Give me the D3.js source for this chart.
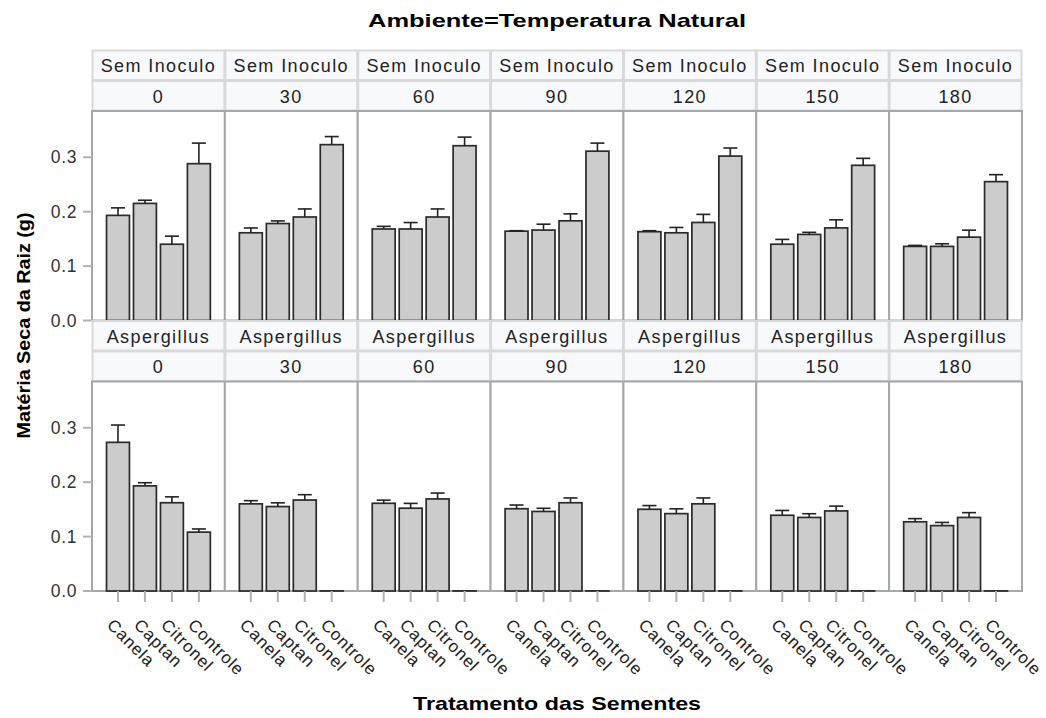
<!DOCTYPE html>
<html>
<head>
<meta charset="utf-8">
<script src="https://cdn.jsdelivr.net/npm/d3@7"></script>
<style>
    body { margin: 0; background: #fff; }
    text { font-family: "Liberation Sans", Arial, sans-serif; }
</style>
</head>
<body>
<div id="chart"></div>
<script>
var treatments = ["Canela", "Captan", "Citronel", "Controle"];
var days = ["0", "30", "60", "90", "120", "150", "180"];
var inoculos = ["Sem Inoculo", "Aspergillus"];
var yTicks = [0, 0.1, 0.2, 0.3];

// media por dia, na ordem dos tratamentos
var semInoculoMean = [
    [0.193, 0.215, 0.140, 0.288],
    [0.161, 0.178, 0.190, 0.323],
    [0.168, 0.168, 0.190, 0.321],
    [0.164, 0.166, 0.183, 0.311],
    [0.163, 0.161, 0.180, 0.302],
    [0.140, 0.158, 0.170, 0.285],
    [0.136, 0.136, 0.153, 0.255]
];
var semInoculoErr = [
    [0.014, 0.006, 0.015, 0.038],
    [0.009, 0.005, 0.015, 0.015],
    [0.005, 0.012, 0.015, 0.016],
    [0.001, 0.011, 0.013, 0.015],
    [0.002, 0.010, 0.015, 0.015],
    [0.009, 0.004, 0.015, 0.013],
    [0.002, 0.005, 0.013, 0.013]
];
var aspergillusMean = [
    [0.273, 0.193, 0.162, 0.108],
    [0.160, 0.155, 0.167, 0],
    [0.161, 0.152, 0.169, 0],
    [0.151, 0.146, 0.162, 0],
    [0.150, 0.142, 0.160, 0],
    [0.139, 0.135, 0.147, 0],
    [0.127, 0.120, 0.135, 0]
];
var aspergillusErr = [
    [0.032, 0.006, 0.011, 0.006],
    [0.006, 0.007, 0.010, 0],
    [0.006, 0.009, 0.011, 0],
    [0.007, 0.006, 0.009, 0],
    [0.007, 0.009, 0.011, 0],
    [0.009, 0.007, 0.009, 0],
    [0.006, 0.006, 0.009, 0]
];

var width = 1046, height = 718;
var gridLeft = 92, gridRight = 1022, gridTop = 50;
var headerH = 30.5, plotH = 209.5;
var blockH = headerH * 2 + plotH;

var svg = d3.select("#chart").append("svg")
    .attr("width", width)
    .attr("height", height);

var colScale = d3.scaleBand()
    .domain(days)
    .range([gridLeft, gridRight]);
var colW = colScale.bandwidth();

var rowScale = d3.scaleBand()
    .domain(inoculos)
    .range([gridTop, gridTop + blockH * 2]);

var yScale = d3.scaleLinear()
    .domain([0, 0.385])
    .range([plotH, 0]);

var rows = [
    {name: "Sem Inoculo", mean: semInoculoMean, err: semInoculoErr},
    {name: "Aspergillus", mean: aspergillusMean, err: aspergillusErr}
];

// stretch text horizontally to a given width
function fitText(sel, w) {
    sel.attr("textLength", w).attr("lengthAdjust", "spacingAndGlyphs");
}

rows.forEach(function (row, r) {
    var rowY = rowScale(row.name);

    days.forEach(function (day, c) {
        var px = colScale(day);
        var g = svg.append("g").attr("transform", "translate(" + px + "," + rowY + ")");

        // header cells
        [row.name, day].forEach(function (label, k) {
            g.append("rect")
                .attr("x", 0.5)
                .attr("y", k * headerH + 0.5)
                .attr("width", colW - 1)
                .attr("height", headerH - 1)
                .attr("fill", "#f8f9fd")
                .attr("stroke", "#d9d9d9")
                .attr("stroke-width", 2);
            g.append("text")
                .attr("x", colW / 2)
                .attr("y", k * headerH + 22)
                .attr("text-anchor", "middle")
                .attr("font-size", 18)
                .attr("letter-spacing", 1.4)
                .attr("fill", "#222")
                .text(label);
        });

        var pg = g.append("g").attr("transform", "translate(0," + headerH * 2 + ")");

        pg.append("rect")
            .attr("x", 0)
            .attr("y", 0)
            .attr("width", colW)
            .attr("height", plotH)
            .attr("fill", "#fff")
            .attr("stroke", "#a4a7ab")
            .attr("stroke-width", 2);

        var xScale = d3.scaleBand()
            .domain(treatments)
            .range([12.5, colW - 12.5])
            .paddingInner(0.15)
            .paddingOuter(0.075);
        var bw = xScale.bandwidth();

        var data = treatments.map(function (t, i) {
            return {t: t, v: row.mean[c][i], e: row.err[c][i]};
        });

        pg.selectAll("rect.bar")
            .data(data)
            .enter().append("rect")
            .attr("class", "bar")
            .attr("x", function (d) { return xScale(d.t); })
            .attr("y", function (d) { return yScale(d.v) - 0.1; })
            .attr("width", bw)
            .attr("height", function (d) { return yScale(0) - yScale(d.v) + 0.1; })
            .attr("fill", "#cccccc")
            .attr("stroke", "#2a2a2a")
            .attr("stroke-width", 1.7);

        var eb = pg.selectAll("g.err")
            .data(data.filter(function (d) { return d.v > 0; }))
            .enter().append("g")
            .attr("class", "err")
            .attr("stroke", "#222")
            .attr("stroke-width", 1.6);
        eb.append("line")
            .attr("x1", function (d) { return xScale(d.t) + bw / 2; })
            .attr("x2", function (d) { return xScale(d.t) + bw / 2; })
            .attr("y1", function (d) { return yScale(d.v); })
            .attr("y2", function (d) { return yScale(d.v + d.e); });
        eb.append("line")
            .attr("x1", function (d) { return xScale(d.t) + bw / 2 - 7; })
            .attr("x2", function (d) { return xScale(d.t) + bw / 2 + 7; })
            .attr("y1", function (d) { return yScale(d.v + d.e); })
            .attr("y2", function (d) { return yScale(d.v + d.e); });

        // y axis on first column
        if (c === 0) {
            var ya = pg.append("g");
            ya.selectAll("line")
                .data(yTicks)
                .enter().append("line")
                .attr("x1", -9)
                .attr("x2", 0)
                .attr("y1", function (d) { return yScale(d); })
                .attr("y2", function (d) { return yScale(d); })
                .attr("stroke", "#b0b3b6")
                .attr("stroke-width", 2);
            ya.selectAll("text")
                .data(yTicks)
                .enter().append("text")
                .attr("x", -15)
                .attr("y", function (d) { return yScale(d) + 6; })
                .attr("text-anchor", "end")
                .attr("font-size", 17.5)
                .attr("letter-spacing", 0.6)
                .attr("fill", "#333")
                .text(function (d) { return d3.format(".1f")(d); });
        }

        // x axis on bottom row
        if (r === rows.length - 1) {
            var xa = pg.append("g");
            xa.selectAll("line")
                .data(treatments)
                .enter().append("line")
                .attr("x1", function (d) { return xScale(d) + bw / 2; })
                .attr("x2", function (d) { return xScale(d) + bw / 2; })
                .attr("y1", plotH)
                .attr("y2", plotH + 11)
                .attr("stroke", "#b0b3b6")
                .attr("stroke-width", 2);
            xa.selectAll("text")
                .data(treatments)
                .enter().append("text")
                .attr("transform", function (d) {
                    return "translate(" + (xScale(d) + bw / 2 - 12) + "," + (plotH + 35) + ") rotate(45)";
                })
                .attr("font-size", 17)
                .attr("letter-spacing", 0.9)
                .attr("fill", "#222")
                .text(function (d) { return d; });
        }
    });
});

var gridMid = (gridLeft + gridRight) / 2;

svg.append("text")
    .attr("x", gridMid)
    .attr("y", 27)
    .attr("text-anchor", "middle")
    .attr("font-size", 19)
    .attr("font-weight", "bold")
    .call(fitText, 378)
    .text("Ambiente=Temperatura Natural");

svg.append("text")
    .attr("x", gridMid)
    .attr("y", 710)
    .attr("text-anchor", "middle")
    .attr("font-size", 19)
    .attr("font-weight", "bold")
    .call(fitText, 288)
    .text("Tratamento das Sementes");

svg.append("text")
    .attr("transform", "translate(30," + (rowScale("Aspergillus") + 5) + ") rotate(-90)")
    .attr("text-anchor", "middle")
    .attr("font-size", 19)
    .attr("font-weight", "bold")
    .call(fitText, 226)
    .text("Matéria Seca da Raiz (g)");
</script>
</body>
</html>
